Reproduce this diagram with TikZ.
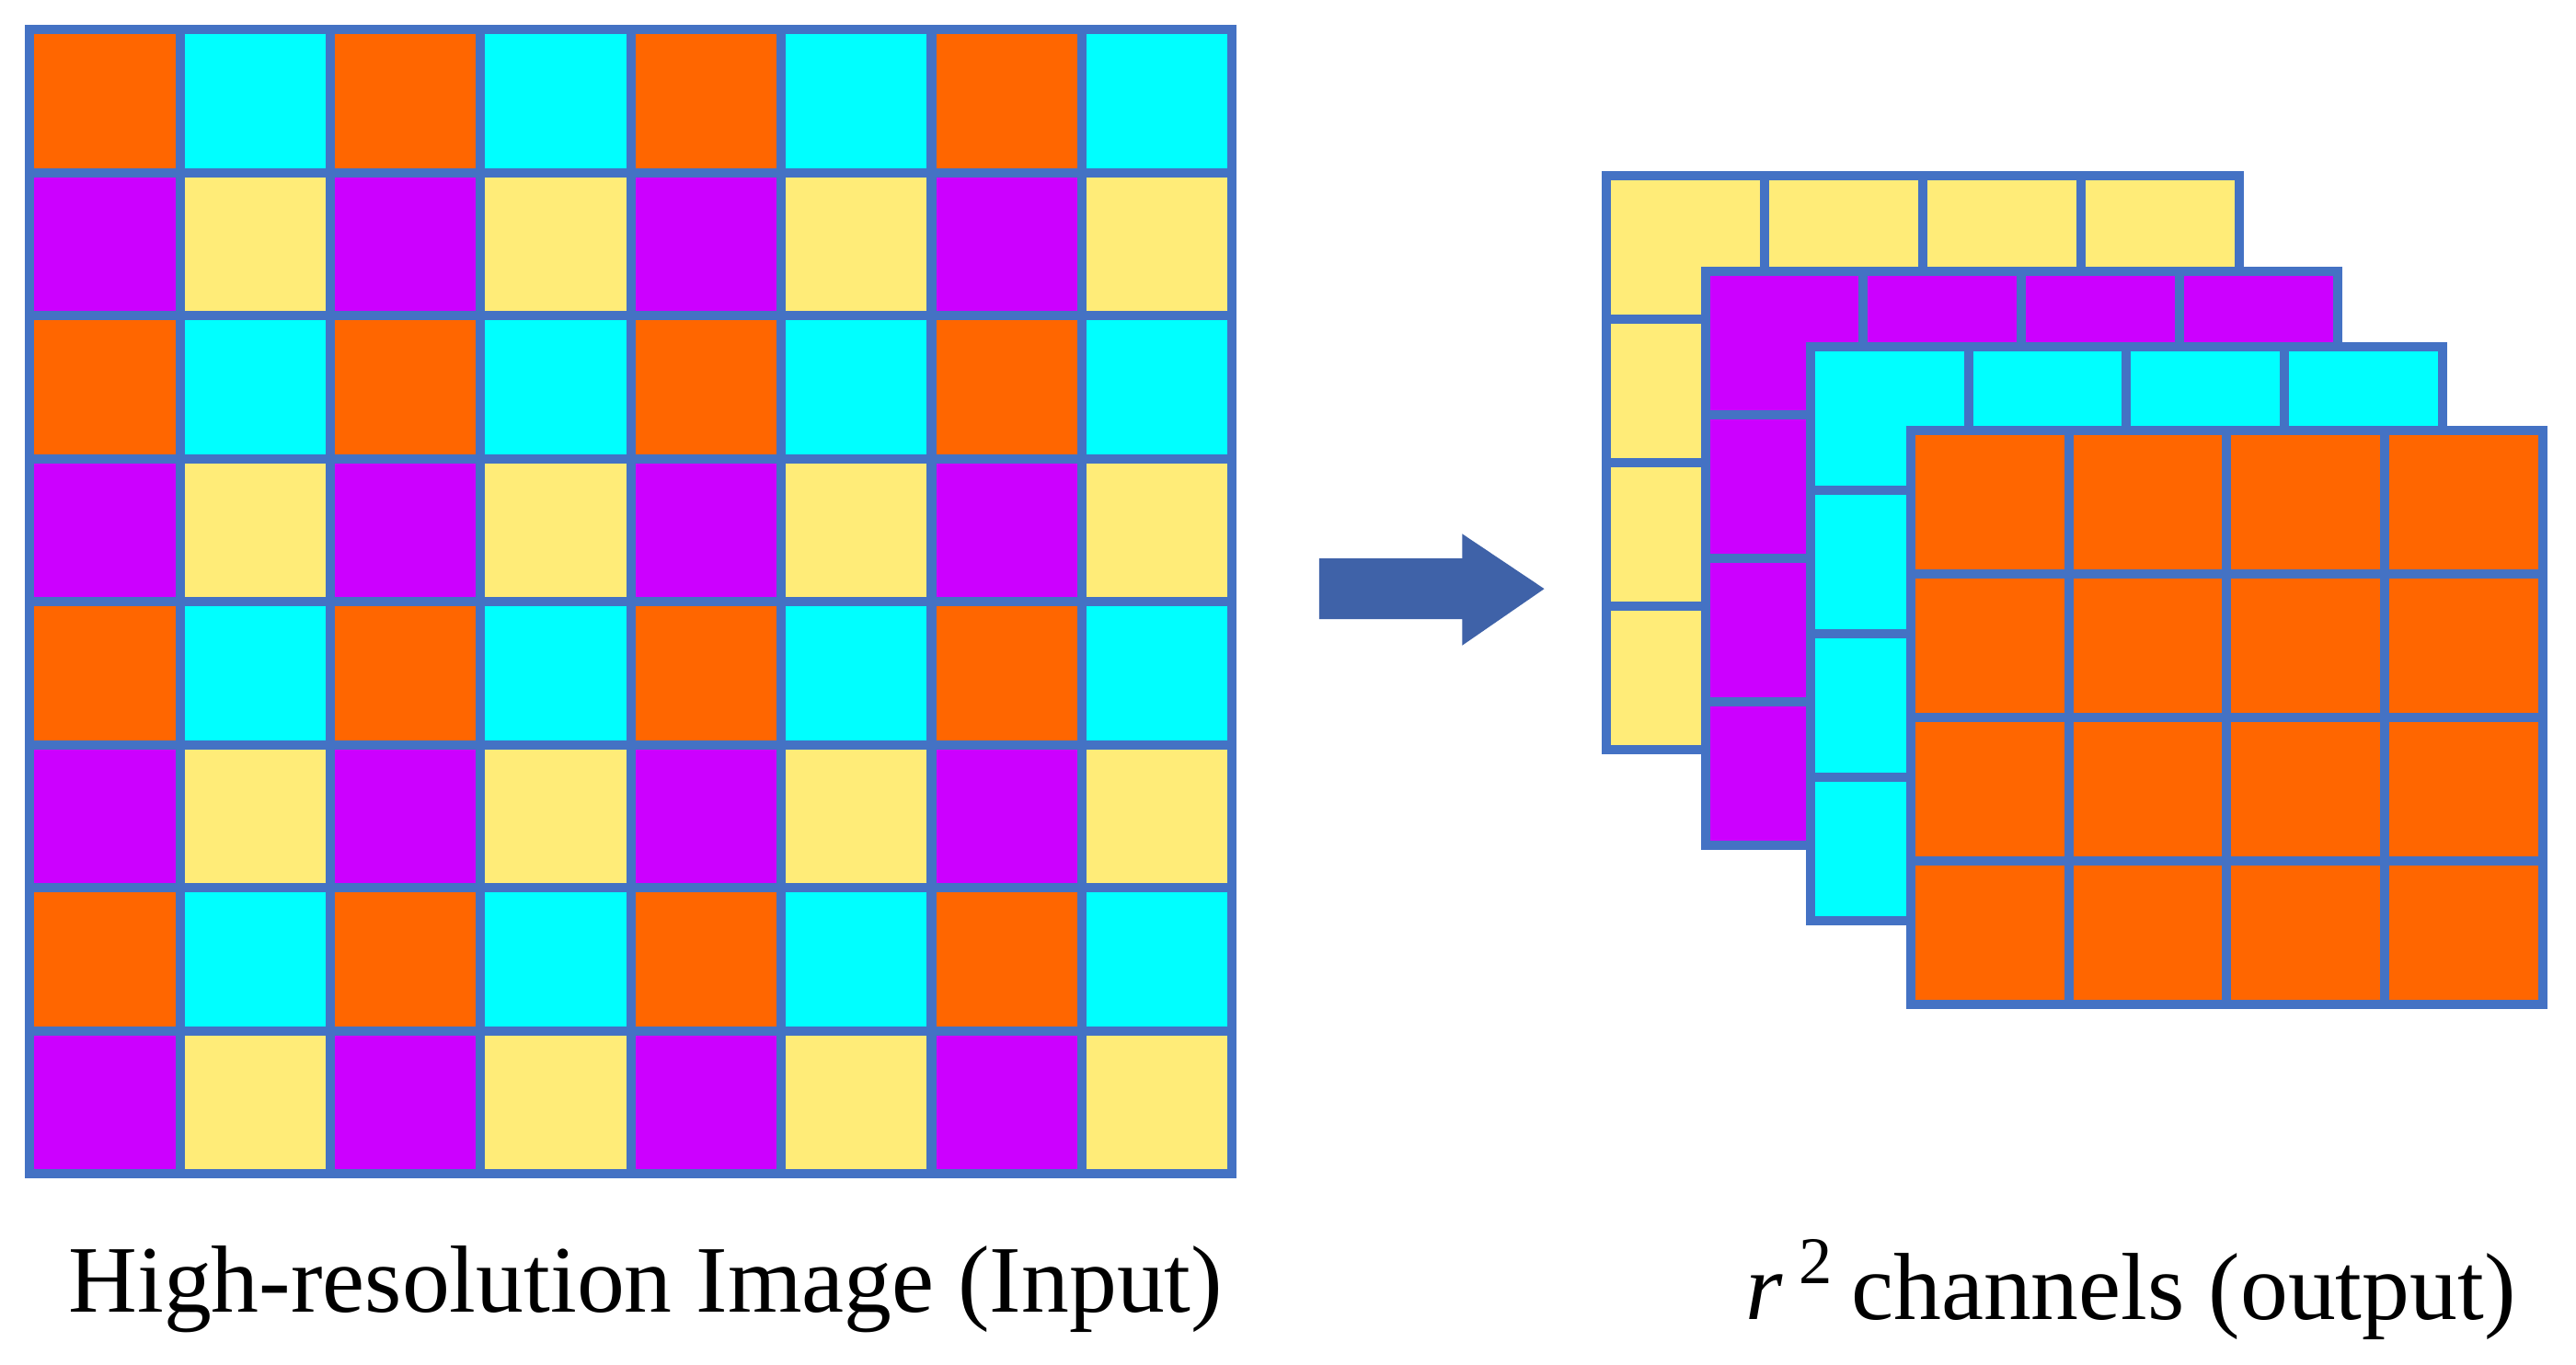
\documentclass[tikz,border=0pt]{standalone}
\usepackage{fontspec}
\setmainfont{Liberation Serif}
\usepackage{tikz}
\definecolor{po}{RGB}{255,102,0}
\definecolor{pc}{RGB}{0,255,255}
\definecolor{pp}{RGB}{204,0,255}
\definecolor{py}{RGB}{255,236,120}
\definecolor{edge}{RGB}{68,114,196}
\definecolor{arr}{RGB}{63,98,168}
\tikzset{cell/.style={draw=edge, line width=1.6pt}}
\begin{document}
\begin{tikzpicture}[x=0.01cm, y=-0.01cm]
\useasboundingbox (0,0) rectangle (1568,831);

% high resolution input
\foreach \i in {0,...,7} {
  \foreach \j in {0,...,7} {
    \pgfmathparse{int(mod(\i,2)*2+mod(\j,2))}
    \ifcase\pgfmathresult \def\c{po}\or \def\c{pc}\or \def\c{pp}\or \def\c{py}\fi
    \draw[cell, fill=\c] (18+\j*91.5, 18+\i*87.1) rectangle +(91.5, 87.1);
  }
}

% output channels
\foreach \c/\x/\y in {py/978/107, pp/1038/165, pc/1102/211, po/1163/262} {
  \foreach \i in {0,...,3} {
    \foreach \j in {0,...,3} {
      \draw[cell, fill=\c] (\x+\j*96.2, \y+\i*87.4) rectangle +(96.2, 87.4);
    }
  }
}

\fill[arr] (803,340) -- (890,340) -- (890,325) -- (940,358.5) -- (890,393) -- (890,377) -- (803,377) -- cycle;

\node[font=\fontsize{16.5}{20}\selectfont] (lin) at (393,785) {High-resolution Image (Input)};
\node[font=\fontsize{16.5}{20}\selectfont] (lout) at (1297,785) {\textit{r}\,\textsuperscript{2}\,channels (output)};
\end{tikzpicture}
\end{document}
